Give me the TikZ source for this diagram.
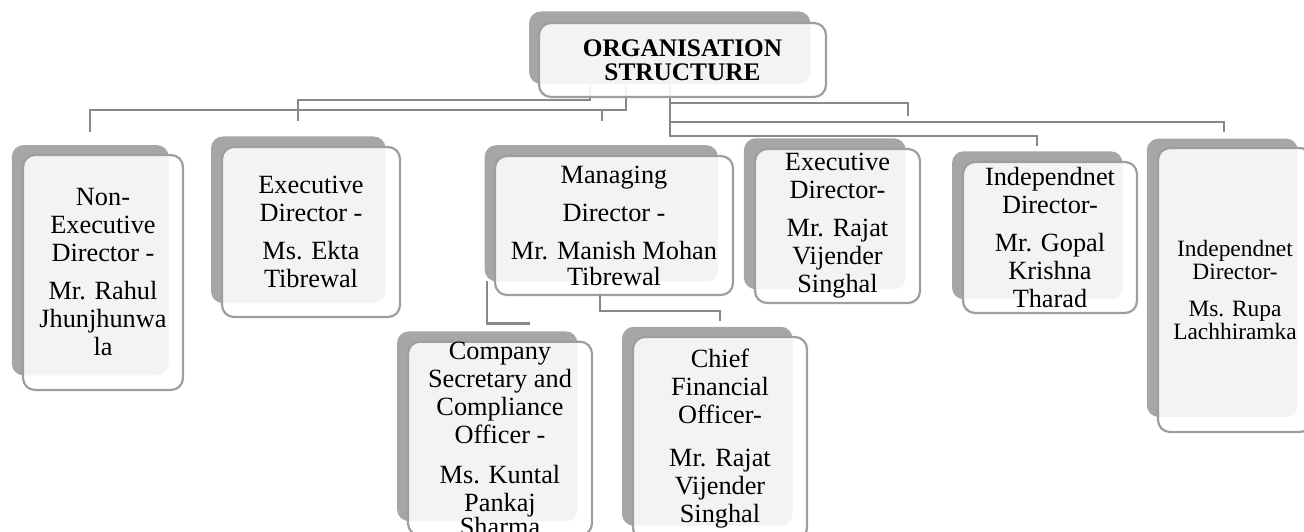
\documentclass[tikz,border=0pt]{standalone}
\usepackage{fontspec}
\setmainfont{Liberation Serif}
\usepackage{tikz}
\usetikzlibrary{shadows}
\usetikzlibrary{calc}
\usetikzlibrary{backgrounds}
\usepackage{xcolor}
\definecolor{shadowgray}{RGB}{166,166,166}
\definecolor{edgegray}{RGB}{158,158,158}
\definecolor{linegray}{RGB}{136,136,136}

\begin{document}
\begin{tikzpicture}[x=1pt, y=-1pt,
    align=center, 
    member/.style={rectangle, rounded corners=12pt, draw=edgegray, line width=2.2pt,
      fill=white, fill opacity=0.87, text opacity=1, inner sep=0pt,
      font=\fontsize{26.3}{28}\selectfont,
      general shadow={fill=shadowgray, fill opacity=1, draw=none,
        shadow xshift=-13pt, shadow yshift=12.5pt, shadow scale=0.98}},
    head/.style={member, font=\fontsize{25.3}{24}\selectfont\bfseries},
    link/.style={draw=linegray, line width=2.4pt}]
    \useasboundingbox (0,0) rectangle (1304,531);
    \node[head, minimum width=287pt, minimum height=74pt] (title) at (682.5,60) {ORGANISATION\\STRUCTURE};
    \node[member, minimum width=160pt, minimum height=235pt] (nonexec) at (103,272.5)
      {Non-\\Executive\\Director -\\[10pt]Mr. Rahul\\Jhunjhunwa\\la};
    \node[member, minimum width=178pt, minimum height=170pt] (ekta) at (311,232)
      {Executive\\Director -\\[10pt]Ms. Ekta\\Tibrewal};
    \node[member, minimum width=238pt, minimum height=139pt] (md) at (614,225.5)
      {Managing\\[10pt]Director -\\[10pt]Mr. Manish Mohan\\[-2pt]Tibrewal};
    \node[member, minimum width=165pt, minimum height=154pt] (rajat) at (837.5,226)
      {Executive\\Director-\\[10pt]Mr. Rajat\\Vijender\\Singhal};
    \node[member, minimum width=174pt, minimum height=151pt] (gopal) at (1050,237.5)
      {Independnet\\Director-\\[10pt]Mr. Gopal\\Krishna\\Tharad};
    \node[member, minimum width=154pt, minimum height=284pt,
      font=\fontsize{23.4}{23}\selectfont] (rupa) at (1235,290)
      {Independnet\\Director-\\[14pt]Ms. Rupa\\Lachhiramka};
    \node[member, minimum width=184pt, minimum height=193pt] (cs) at (500,438.5)
      {Company\\Secretary and\\Compliance\\Officer -\\[12pt]Ms. Kuntal\\Pankaj\\[-4pt]Sharma};
    \node[member, minimum width=174pt, minimum height=203pt] (cfo) at (720,438.5)
      {Chief\\Financial\\Officer-\\[15pt]Mr. Rajat\\Vijender\\Singhal};
  \begin{pgfonlayer}{background}
  % left of the title
  \draw[link] ($(title.south)+(-92.5,-12)$) |- ($(ekta.north)+(-13,-46)$) -- ($(ekta.north)+(-13,-25)$);
  \draw[link] ($(title.south)+(-56.5,-12)$) |- ($(nonexec.north)+(-13,-44)$) -- ($(nonexec.north)+(-13,-22)$);
  \draw[link] ($(md.north)+(-12,-46)$) -- ($(md.north)+(-12,-34)$);
  % right of the title
  \draw[link] ($(title.south)+(-12.5,-12)$) |- ($(rajat.north)+(70.5,-45)$) -- ($(rajat.north)+(70.5,-32)$);
  \draw[link] ($(title.south)+(-12.5,-12)$) |- ($(rupa.north)+(-11,-25)$) -- ($(rupa.north)+(-11,-15)$);
  \draw[link] ($(title.south)+(-12.5,-12)$) |- ($(gopal.north)+(-13,-25)$) -- ($(gopal.north)+(-13,-15)$);
  % under the managing director
  \draw[link] ($(md.south)+(-127,-15)$) |- ($(cs.north)+(30,-17)$);
  \draw[link] ($(md.south)+(-14,-10)$) |- ($(cfo.north)+(0,-25)$) -- ($(cfo.north)+(0,-15)$);
  \end{pgfonlayer}
\end{tikzpicture}
\end{document}
